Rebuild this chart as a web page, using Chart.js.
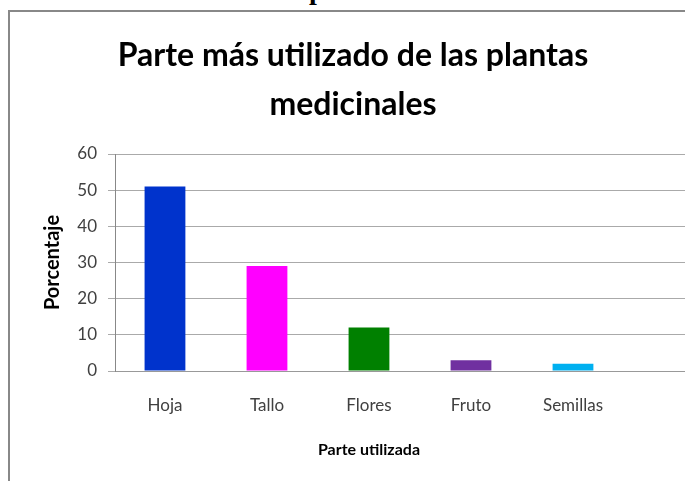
<!DOCTYPE html>
<html>
<head>
<meta charset="utf-8">
<script src="https://cdn.jsdelivr.net/npm/chart.js@4.4.1/dist/chart.umd.min.js"></script>
<style>
  html, body { margin: 0; padding: 0; background: #fff; overflow: hidden; }
  body { width: 685px; height: 481px; position: relative; }
  #marco { position: absolute; left: 8px; top: 10px; width: 720px; height: 520px;
    border-left: 2px solid #888; border-top: 2px solid #888; }
  #encabezado { position: absolute; left: 309px; top: -24px; font: bold 28px "Liberation Serif"; line-height: 1; }
  #lienzo { position: absolute; left: 0; top: 0; }
</style>
</head>
<body>
<div id="encabezado">p</div>
<div id="marco"></div>
<canvas id="lienzo" width="706" height="481"></canvas>
<script>
// Datos
const categorias = ["Hoja", "Tallo", "Flores", "Fruto", "Semillas"];
const porcentajes = [51, 29, 12, 3, 2];
const coloresBarras = ["#0033cc", "#ff00ff", "#008000", "#7030a0", "#00b0f0"];
const ticksY = [0, 10, 20, 30, 40, 50, 60];

const titulo = ["Parte más utilizado de las plantas", "medicinales"];
const tituloEjeY = "Porcentaje";
const tituloEjeX = "Parte utilizada";

// Título del eje X centrado bajo las barras (no bajo toda la rejilla)
const pluginTituloX = {
  id: "pluginTituloX",
  afterDraw(chart) {
    const ctx = chart.ctx;
    const x = chart.scales.x.getPixelForValue((categorias.length - 1) / 2);
    ctx.save();
    ctx.font = "bold 16px Lato";
    ctx.fillStyle = "#000";
    ctx.textAlign = "center";
    ctx.textBaseline = "alphabetic";
    ctx.fillText(tituloEjeX, x, 455);
    ctx.restore();
  },
};

const ctx = document.querySelector("#lienzo").getContext("2d");
const chart = new Chart(ctx, {
  type: "bar",
  data: {
    datasets: [
      {
        data: categorias.map((c, i) => ({ x: i, y: porcentajes[i] })),
        backgroundColor: coloresBarras,
        borderWidth: 0,
        barPercentage: 0.5,
        categoryPercentage: 0.8,
      },
    ],
  },
  options: {
    responsive: false,
    animation: false,
    layout: { padding: 0 },
    plugins: {
      legend: { display: false },
      tooltip: { enabled: false },
      title: {
        display: true,
        text: titulo,
        color: "#000",
        font: { family: "Lato", size: 32, weight: "bold", lineHeight: 49 / 32 },
        padding: { top: 31, bottom: 25 },
      },
    },
    scales: {
      x: {
        type: "linear",
        offset: false,
        min: -0.49,
        max: 5.304,
        grid: { display: false, drawTicks: false },
        border: { display: true, color: "#999", width: 1 },
        afterBuildTicks: (s) => {
          s.ticks = categorias.map((c, i) => ({ value: i }));
        },
        ticks: {
          callback: (v) => categorias[v],
          color: "#404040",
          font: { family: "Lato", size: 17 },
          padding: 24,
          maxRotation: 0,
          autoSkip: false,
        },
        afterFit: (s) => {
          s.height = 110;
        },
      },
      y: {
        min: 0,
        max: 60,
        afterBuildTicks: (s) => {
          s.ticks = ticksY.map((v) => ({ value: v }));
        },
        grid: { color: "#aaa", lineWidth: 1, drawTicks: true, tickLength: 7 },
        border: { display: true, color: "#888", width: 1 },
        ticks: {
          color: "#404040",
          font: { family: "Lato", size: 17 },
          padding: 11,
        },
        title: {
          display: true,
          text: tituloEjeY,
          color: "#000",
          font: { family: "Lato", size: 20, weight: "bold", lineHeight: 1.2 },
          padding: { top: 41, bottom: 0 },
        },
        afterFit: (s) => {
          s.width = 115;
        },
      },
    },
  },
  plugins: [pluginTituloX],
});
</script>
</body>
</html>
